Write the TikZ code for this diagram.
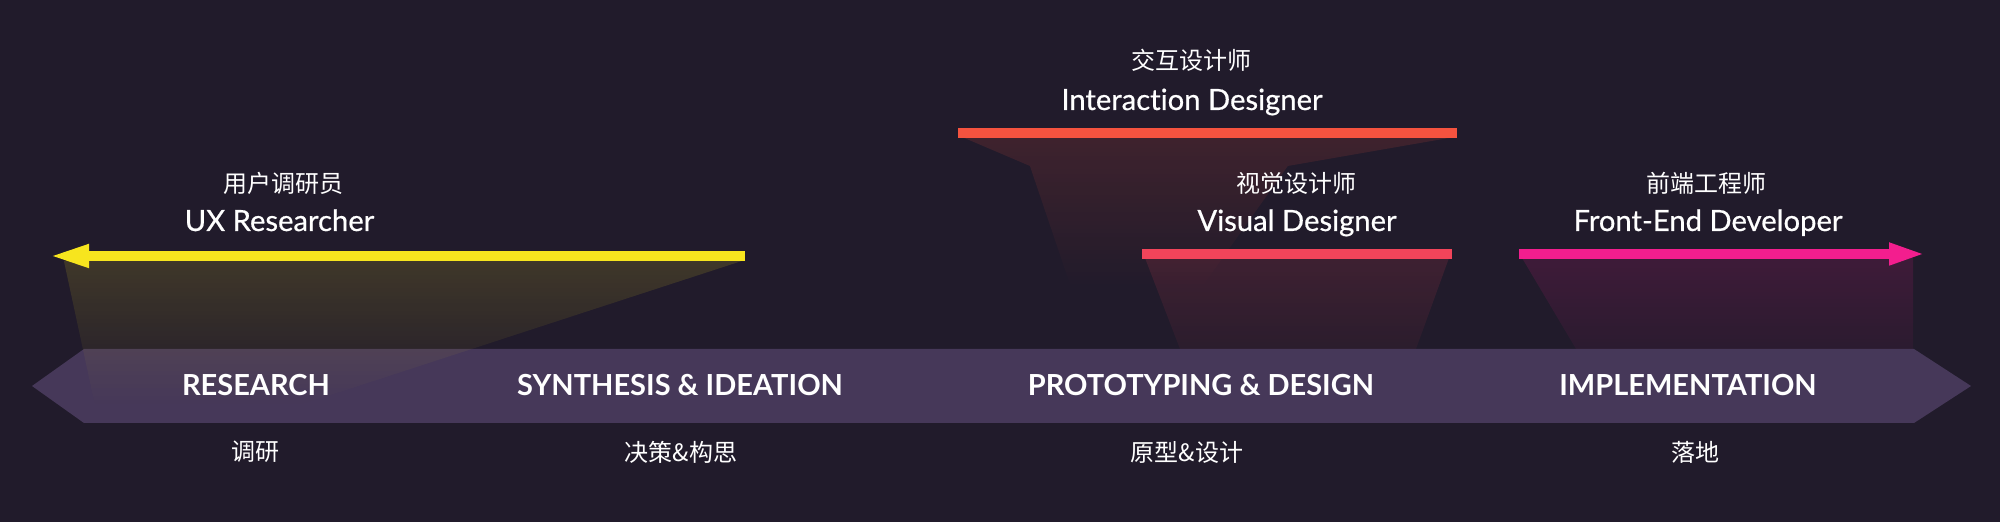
\documentclass[tikz,border=0pt]{standalone}
\usepackage{fontspec}
\setmainfont{Lato}
\newfontfamily\rolefont{Lato}[FakeBold=0.6,Ligatures=CommonOff]
\newfontfamily\cjk{Noto Sans CJK SC}
\usetikzlibrary{arrows.meta,fadings}
\definecolor{bg}{HTML}{211B2B}
\definecolor{bandedge}{HTML}{2E2740}
\definecolor{bandmid}{HTML}{463859}
\definecolor{ycol}{HTML}{F7E51E}
\definecolor{icol}{HTML}{F5533F}
\definecolor{vcol}{HTML}{F2445A}
\definecolor{fcol}{HTML}{F31E8E}
\pgfdeclarehorizontalshading{bandshade}{100bp}{color(0bp)=(bandedge); color(14bp)=(bandmid); color(86bp)=(bandmid); color(100bp)=(bandedge)}
\tikzfading[name=fadedown, top color=transparent!0, bottom color=transparent!100]
\tikzfading[name=fadesoft, top color=transparent!0, bottom color=transparent!65]
\tikzset{
  role/.style={text=white, inner sep=0pt, anchor=base, font=\rolefont\fontsize{14.6}{17}\selectfont},
  rolecn/.style={text=white, inner sep=0pt, anchor=center, font=\cjk\fontsize{12}{14}\selectfont},
  phase/.style={text=white, inner sep=0pt, anchor=base, font=\bfseries\fontsize{14.5}{16}\selectfont},
  phasecn/.style={text=white, inner sep=0pt, anchor=center, font=\cjk\fontsize{12}{14}\selectfont},
  bar/.style={line width=4.75pt},
  glow/.style={fill opacity=0.14}
}
\begin{document}
\begin{tikzpicture}[x=0.5pt,y=-0.5pt]
\fill[bg] (0,0) rectangle (2000,522);
\useasboundingbox (0,0) rectangle (2000,522);
% band
\shade[shading=bandshade] (32,386) -- (84,349) -- (1914,349) -- (1971,386) -- (1914,423) -- (84,423) -- cycle;
% glows
\fill[ycol, glow, path fading=fadedown] (64,261) -- (742,261) -- (300,405) -- (95,405) -- cycle;
\fill[icol, glow, path fading=fadedown] (962,137) -- (1455,137) -- (1288,166) -- (1200,290) -- (1072,290) -- (1030,166) -- cycle;
\fill[vcol, glow, path fading=fadesoft] (1145,258) -- (1449,258) -- (1416,349) -- (1180,349) -- cycle;
\fill[fcol, glow, path fading=fadesoft] (1522,258) -- (1913,258) -- (1913,349) -- (1576,349) -- cycle;
% bars
\coordinate (ys) at (745,256); \coordinate (ye) at (49,256);
\coordinate (is) at (958,133); \coordinate (ie) at (1457,133);
\coordinate (vs) at (1142,254); \coordinate (ve) at (1452,254);
\coordinate (fs) at (1519,254); \coordinate (fe) at (1926,254);
\draw[bar, ycol, -{Triangle[length=20pt,width=10.5pt]}] (ys) -- (ye);
\draw[bar, icol] (is) -- (ie);
\draw[bar, vcol] (vs) -- (ve);
\draw[bar, fcol, -{Triangle[length=18.5pt,width=10pt]}] (fs) -- (fe);
% role labels
\node[rolecn] (uxcn) at (283,183) {用户调研员};
\node[role] (ux) at (279.5,231) {UX Researcher};
\node[rolecn] (ixcn) at (1191,60.5) {交互设计师};
\node[role] (ix) at (1192,110) {Interaction Designer};
\node[rolecn] (vdcn) at (1296,183.5) {视觉设计师};
\node[role] (vd) at (1297,231) {Visual Designer};
\node[rolecn] (fecn) at (1706,183) {前端工程师};
\node[role] (fed) at (1708,231) {Front-End Developer};
% phases
\node[phase] (p1) at (256,396) {RESEARCH};
\node[phase] (p2) at (680,396) {SYNTHESIS \& IDEATION};
\node[phase] (p3) at (1201,396) {PROTOTYPING \& DESIGN};
\node[phase] (p4) at (1688,396) {IMPLEMENTATION};
\node[phasecn] (c1) at (255,452) {调研};
\node[phasecn] (c2) at (681,452) {决策\&构思};
\node[phasecn] (c3) at (1187,452) {原型\&设计};
\node[phasecn] (c4) at (1695,452) {落地};
\end{tikzpicture}
\end{document}
